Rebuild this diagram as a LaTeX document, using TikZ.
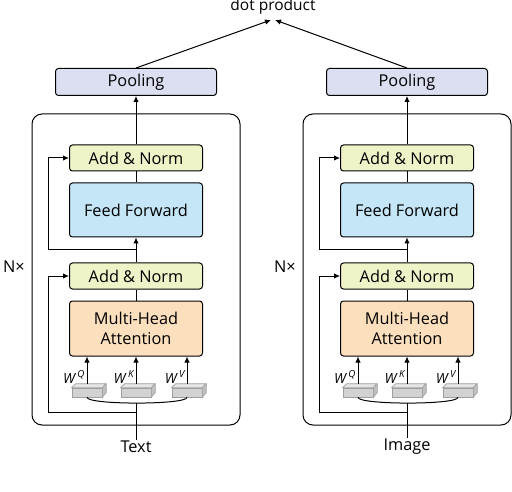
\documentclass[tikz,border=0pt]{standalone}
\usepackage{fontspec}
\setmainfont{Open Sans}
\usetikzlibrary{arrows.meta}

\definecolor{poolc}{HTML}{DCDFF1}
\definecolor{normc}{HTML}{F0F3C8}
\definecolor{ffc}{HTML}{C4E6F6}
\definecolor{mhac}{HTML}{FCDFBD}

\tikzset{
  blk/.style={draw, rounded corners=3pt, line width=1pt, inner sep=0pt,
    align=center, minimum width=133pt, font=\fontsize{16.3}{19.5}\selectfont},
  poolbox/.style={blk, fill=poolc, minimum width=161pt, minimum height=27pt},
  normbox/.style={blk, fill=normc, minimum height=26pt},
  ffbox/.style={blk, fill=ffc, minimum height=54pt},
  mhabox/.style={blk, fill=mhac, minimum height=55pt},
  slab/.style={draw=gray!75, fill=gray!35, line width=0.6pt, minimum width=30pt,
    minimum height=9pt, inner sep=0pt},
  txt/.style={inner sep=1pt, font=\fontsize{16.3}{19.5}\selectfont},
  wlab/.style={inner sep=0pt, font=\fontsize{14}{16}\selectfont\itshape},
}

\begin{document}
\begin{tikzpicture}[x=1pt, y=-1pt, line width=1pt, >={Latex[length=6pt,width=5.5pt]}]
\useasboundingbox (0,0) rectangle (512,492);

% Parameters
\def\cx{136}

% output
\node[txt, font=\fontsize{15.5}{18}\selectfont, anchor=base] (dotp) at (273,11) {dot product};
\coordinate (tip) at (273,20);

% the two towers
\foreach \s/\dx/\inp in {L/0/Text, R/271/Image} {
  \begin{scope}[xshift=\dx pt]
    % outer block
    \draw[rounded corners=10pt] (32,114) rectangle (240,425);
    \node[txt] (n\s) at (14,267) {N×};

    % blocks
    \node[poolbox] (pool\s) at (\cx,82) {Pooling};
    \node[normbox] (an2\s) at (\cx,158) {Add \& Norm};
    \node[ffbox] (ff\s) at (\cx,210) {Feed Forward};
    \node[normbox] (an1\s) at (\cx,276) {Add \& Norm};
    \node[mhabox] (mha\s) at (\cx,328.5) {Multi-Head\\Attention};

    % projection slabs
    \foreach \w/\x/\su in {wq/87/Q, wk/136/K, wv/187/V} {
      \node[slab] (\w\s) at (\x,392.5) {};
      \filldraw[draw=gray!75, fill=gray!20, line width=0.6pt]
        (\w\s.north west) -- ++(4,-4) -- ++(30,0) -- (\w\s.north east) -- cycle;
      \filldraw[draw=gray!75, fill=gray!50, line width=0.6pt]
        (\w\s.north east) -- ++(4,-4) -- ++(0,9) -- (\w\s.south east) -- cycle;
      \draw[->] ([yshift=4pt]\w\s.north) -- (\w\s.north |- mha\s.south);
      \node[wlab, anchor=east] (l\w\s) at (\x-1.5,377) {W\,\raisebox{1pt}{\textsuperscript{\su}}};
    }

    % input
    \node[txt] (in\s) at (\cx,447) {\inp};
    \coordinate (j\s) at (\cx,403);
    \draw (wq\s.south) .. controls (87,405) and (187,405) .. (wv\s.south);
    \draw (in\s.north) -- (j\s);

    % main path
    \draw (mha\s.north) -- (an1\s.south);
    \draw[->] (an1\s.north) -- (ff\s.south);
    \draw (ff\s.north) -- (an2\s.south);
    \draw[->] (an2\s.north) -- (pool\s.south);

    % residuals
    \coordinate (r1\s) at (\cx,412);
    \coordinate (r2\s) at (\cx,250);
    \draw[->] (r1\s) -- ++(-88,0) |- (an1\s.west);
    \draw[->] (r2\s) -- ++(-88,0) |- (an2\s.west);
    \draw (r1\s) -- (j\s);
  \end{scope}
}

% dot product
\draw[->] (poolL.north) -- ([xshift=-2pt]tip);
\draw[->] (poolR.north) -- ([xshift=2pt]tip);

\end{tikzpicture}
\end{document}
